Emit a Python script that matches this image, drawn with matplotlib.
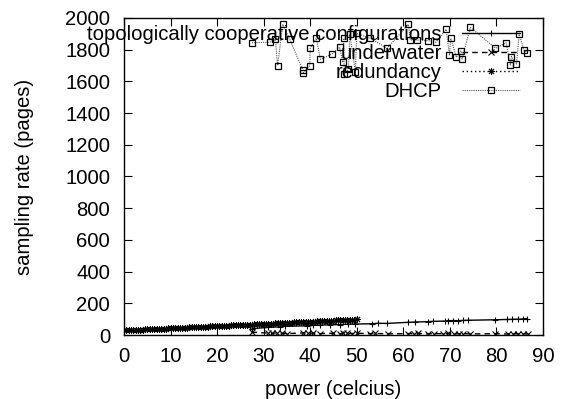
import matplotlib
matplotlib.use("Agg")
import matplotlib.pyplot as plt

plt.rcParams['font.family'] = ['Liberation Sans', 'DejaVu Sans']

# topologically cooperative configurations (+, solid)
tcc_x = [27.5, 31.0, 33.5, 34.6, 39.3, 40.6, 42.1, 44.2, 46.4, 48.1, 49.6, 53.3, 54.6, 56.5,
         61.0, 62.5, 65.3, 66.4, 68.9, 69.6, 70.7, 71.8, 72.9, 73.9, 79.7, 82.3, 83.4, 84.6, 85.7, 86.6]
tcc_y = [40, 48, 52, 55, 58, 60, 63, 64, 66, 68, 69, 71, 74, 73,
         80, 82, 84, 86, 88, 90, 91, 90, 92, 93, 96, 98, 99, 100, 101, 104]

# underwater (x, dashed)
uw_x = [27.4, 31.0, 31.7, 32.8, 33.9, 35.0, 38.5, 39.6, 40.7, 42.1, 45.0, 46.4, 47.1, 47.8, 48.9, 50.0,
        52.8, 53.9, 56.8, 61.1, 62.2, 63.2, 65.4, 66.5, 68.6, 69.7, 70.8, 71.9, 72.9, 74.4,
        79.7, 82.5, 83.6, 84.7, 85.7, 86.7]
uw_y = [18, 12, 10, 14, 11, 9, 13, 10, 12, 9, 11, 8, 12, 10, 9, 11,
        8, 10, 7, 9, 8, 10, 7, 9, 8, 10, 7, 8, 9, 7,
        8, 6, 9, 7, 8, 6]

# redundancy (*, dotted)
red_x = [i * 0.5 for i in range(0, 101)]
red_y = [30, 30, 31, 31, 32, 33, 33, 34, 34, 35, 36, 36, 37, 38, 38, 39, 40, 40, 41, 42,
         42, 43, 44, 44, 45, 46, 46, 47, 48, 48, 49, 50, 50, 51, 52, 52, 53, 54, 54, 55,
         56, 56, 57, 58, 58, 59, 60, 61, 61, 62, 63, 63, 64, 65, 65, 66, 67, 67, 68, 69,
         70, 70, 71, 72, 72, 73, 74, 75, 75, 76, 77, 77, 78, 79, 80, 80, 81, 82, 82, 83,
         84, 85, 85, 86, 87, 87, 88, 89, 90, 90, 91, 92, 92, 93, 94, 95, 95, 96, 97, 97, 98]

# DHCP (open squares, fine dotted)
dhcp_x = [27.5, 31.3, 32.5, 33.0, 34.1, 35.6, 38.4, 38.5, 39.9, 40.0, 41.3, 42.2, 44.7, 46.3, 47.0,
          47.2, 47.3, 48.2, 48.5, 49.7, 50.0, 52.9, 56.5, 61.1, 61.5, 62.9, 65.4, 67.0, 69.2,
          69.9, 70.2, 71.4, 72.4, 72.6, 74.4, 79.8, 82.1, 83.0, 83.2, 84.3, 84.9, 85.9, 86.6]
dhcp_y = [1844, 1847, 1866, 1699, 1960, 1866, 1672, 1655, 1699, 1809, 1872, 1739, 1773, 1815, 1724,
          1872, 1645, 1676, 1897, 1661, 1903, 1872, 1809, 1960, 1861, 1861, 1857, 1847, 1929,
          1767, 1872, 1752, 1794, 1741, 1941, 1809, 1844, 1703, 1757, 1710, 1897, 1798, 1781]

fig = plt.figure(figsize=(5.65, 3.99), dpi=100)
ax = fig.add_axes([0.2195, 0.1604, 0.7415, 0.7945])

ax.plot(tcc_x, tcc_y, color="black", lw=1, marker="+", ms=5, mew=0.8,
        label="topologically cooperative configurations")
ax.plot(uw_x, uw_y, color="black", lw=1, ls=(0, (4, 3)), marker="x", ms=4, mew=0.8,
        label="underwater")
ax.plot(red_x, red_y, color="black", lw=1, ls=(0, (1, 2)), marker=(8, 2, 0), ms=5, mew=0.7,
        label="redundancy")
ax.plot(dhcp_x, dhcp_y, color="#555555", lw=0.8, ls=(0, (1, 1)), marker="s", ms=4.5,
        mfc="none", mec="black", mew=0.9, label="DHCP")

ax.set_xlim(0, 90)
ax.set_ylim(0, 2000)
ax.set_xticks(range(0, 91, 10))
ax.set_yticks(range(0, 2001, 200))
ax.tick_params(direction="in", length=6, top=True, right=True, labelsize=14.6)
ax.tick_params(axis="x", pad=8.5)
ax.tick_params(axis="y", pad=10)
for s in ax.spines.values():
    s.set_linewidth(1)

ax.set_xlabel("power (celcius)", fontsize=14.6, labelpad=10)
ax.set_ylabel("sampling rate (pages)", fontsize=14.6, labelpad=22)

ax.legend(loc="upper right", bbox_to_anchor=(0.945, 0.979), frameon=False, markerfirst=False,
          fontsize=14.6, labelspacing=0.01, handlelength=2.85, handletextpad=1.0,
          borderpad=0, borderaxespad=0)

fig.savefig("out.png", dpi=100)
